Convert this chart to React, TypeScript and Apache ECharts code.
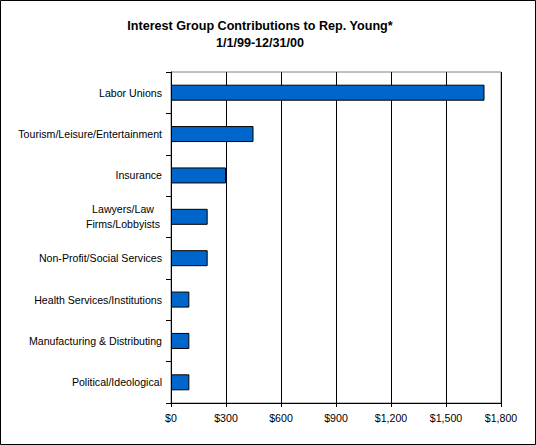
import React, { useEffect, useRef } from "react";
import * as echarts from "echarts";

const titleLines = ["Interest Group Contributions to Rep. Young*", "1/1/99-12/31/00"];
const categories = [
  "Labor Unions",
  "Tourism/Leisure/Entertainment",
  "Insurance",
  "Lawyers/Law\nFirms/Lobbyists",
  "Non-Profit/Social Services",
  "Health Services/Institutions",
  "Manufacturing & Distributing",
  "Political/Ideological",
];
const contributions = [1710, 450, 300, 200, 200, 100, 100, 100];
const xMin = 0;
const xMax = 1800;
const xStep = 300;

const FONT = "'Liberation Sans', Arial, sans-serif";

export default function App() {
  const ref = useRef<HTMLDivElement>(null);
  useEffect(() => {
    if (!ref.current) return;
    const chart = echarts.init(ref.current, undefined, { renderer: "svg" });
    chart.setOption({
      animation: false,
      backgroundColor: "#ffffff",
      graphic: [
        {
          type: "text",
          x: 260,
          y: 26,
          style: {
            text: titleLines[0],
            fontFamily: FONT,
            fontSize: 12.6,
            fontWeight: "bold",
            fill: "#000",
            textAlign: "center",
            textVerticalAlign: "middle",
          },
          silent: true,
        },
        {
          type: "text",
          x: 260,
          y: 43,
          style: {
            text: titleLines[1],
            fontFamily: FONT,
            fontSize: 12.6,
            fontWeight: "bold",
            fill: "#000",
            textAlign: "center",
            textVerticalAlign: "middle",
          },
          silent: true,
        },
        {
          type: "rect",
          shape: { x: 0.5, y: 0.5, width: 535, height: 444 },
          style: { fill: "none", stroke: "#000", lineWidth: 1 },
          silent: true,
          z: 100,
        },
      ],
      grid: {
        left: 171,
        right: 35,
        top: 72,
        bottom: 42,
        show: true,
        borderColor: "#808080",
        borderWidth: 1,
        backgroundColor: "transparent",
      },
      xAxis: {
        type: "value",
        min: xMin,
        max: xMax,
        interval: xStep,
        axisLine: { show: true, lineStyle: { color: "#000", width: 1 } },
        axisTick: { show: true, length: 4, lineStyle: { color: "#000" } },
        splitLine: { show: true, lineStyle: { color: "#000", width: 1 } },
        axisLabel: {
          fontFamily: FONT,
          fontSize: 10.6,
          color: "#000",
          margin: 9,
          formatter: (v: number) => "$" + v.toLocaleString("en-US"),
        },
      },
      yAxis: {
        type: "category",
        data: categories,
        inverse: true,
        axisLine: { show: true, lineStyle: { color: "#000", width: 1 } },
        axisTick: { show: true, length: 5, inside: false, lineStyle: { color: "#000" } },
        splitLine: { show: false },
        axisLabel: {
          fontFamily: FONT,
          fontSize: 10.6,
          color: "#000",
          margin: 9,
          lineHeight: 15,
          formatter: (v: string) =>
            v.indexOf("\n") >= 0
              ? v.split("\n").map((l) => "{c|" + l + "}").join("\n")
              : v,
          rich: {
            c: {
              fontFamily: FONT,
              fontSize: 10.6,
              color: "#000",
              width: 78,
              align: "center",
              lineHeight: 15,
            },
          },
        },
      },
      series: [
        {
          type: "bar",
          data: contributions,
          barWidth: 16,
          itemStyle: { color: "#0066CC", borderColor: "#000", borderWidth: 1 },
        },
      ],
    });
    return () => chart.dispose();
  }, []);
  return (
    <div
      ref={ref}
      style={{ position: "absolute", left: 0, top: 0, width: 536, height: 445 }}
    />
  );
}
